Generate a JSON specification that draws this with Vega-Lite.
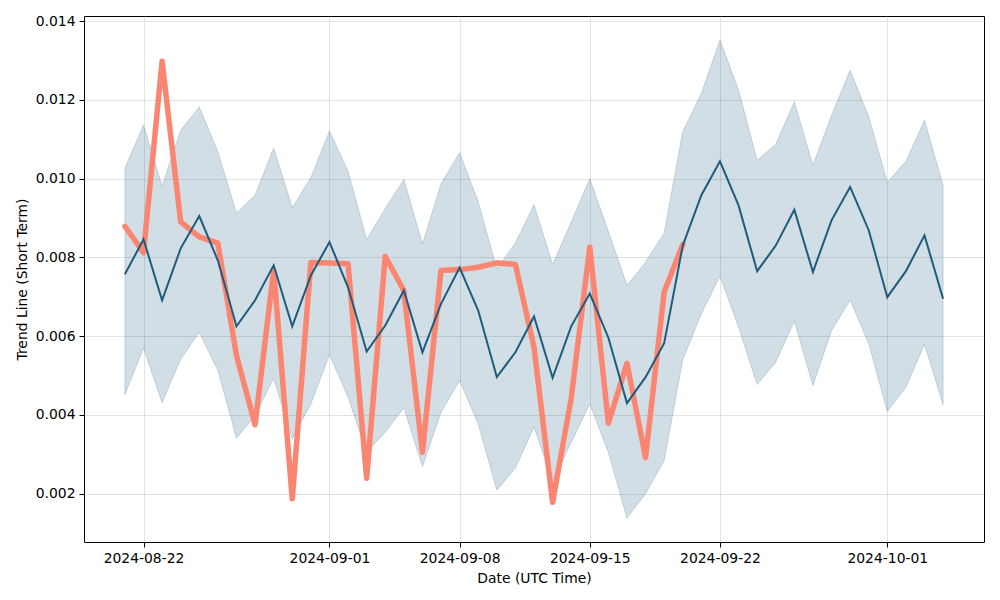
{
  "$schema": "https://vega.github.io/schema/vega-lite/v6.json",
  "width": 900,
  "height": 526,
  "autosize": {"type": "none"},
  "padding": {"left": 84, "top": 16, "right": 16, "bottom": 58},
  "background": "white",
  "config": {
    "view": {"stroke": "#000000", "strokeWidth": 1},
    "font": "DejaVu Sans",
    "axis": {
      "domain": false,
      "grid": true,
      "gridColor": "#b0b0b0",
      "gridOpacity": 0.45,
      "gridWidth": 0.8,
      "tickColor": "#000000",
      "tickSize": 5,
      "tickWidth": 1,
      "labelFont": "DejaVu Sans",
      "labelFontSize": 13.9,
      "labelColor": "#000000",
      "labelPadding": 4,
      "titleFont": "DejaVu Sans",
      "titleFontSize": 13.9,
      "titleFontWeight": "normal",
      "titleColor": "#000000"
    }
  },
  "data": {
    "values": [
      {"date": "2024-08-21", "mean": 0.00757, "lower": 0.00452, "upper": 0.01027, "actual": 0.00879},
      {"date": "2024-08-22", "mean": 0.00846, "lower": 0.0057, "upper": 0.01136, "actual": 0.00812},
      {"date": "2024-08-23", "mean": 0.00691, "lower": 0.00431, "upper": 0.00981, "actual": 0.01298},
      {"date": "2024-08-24", "mean": 0.00823, "lower": 0.00542, "upper": 0.01123, "actual": 0.0089},
      {"date": "2024-08-25", "mean": 0.00905, "lower": 0.00609, "upper": 0.01182, "actual": 0.00852},
      {"date": "2024-08-26", "mean": 0.00792, "lower": 0.00513, "upper": 0.01068, "actual": 0.00836},
      {"date": "2024-08-27", "mean": 0.00625, "lower": 0.00341, "upper": 0.00913, "actual": 0.00551},
      {"date": "2024-08-28", "mean": 0.00691, "lower": 0.00398, "upper": 0.00958, "actual": 0.00375},
      {"date": "2024-08-29", "mean": 0.0078, "lower": 0.00493, "upper": 0.01078, "actual": 0.00767},
      {"date": "2024-08-30", "mean": 0.00625, "lower": 0.00339, "upper": 0.00926, "actual": 0.00187},
      {"date": "2024-08-31", "mean": 0.00754, "lower": 0.00428, "upper": 0.01003, "actual": 0.00787},
      {"date": "2024-09-01", "mean": 0.00839, "lower": 0.00553, "upper": 0.01121, "actual": 0.00786},
      {"date": "2024-09-02", "mean": 0.00724, "lower": 0.00445, "upper": 0.01019, "actual": 0.00784},
      {"date": "2024-09-03", "mean": 0.00561, "lower": 0.00305, "upper": 0.00846, "actual": 0.00239},
      {"date": "2024-09-04", "mean": 0.00627, "lower": 0.00356, "upper": 0.00924, "actual": 0.00803},
      {"date": "2024-09-05", "mean": 0.00716, "lower": 0.00418, "upper": 0.00998, "actual": 0.00716},
      {"date": "2024-09-06", "mean": 0.00559, "lower": 0.00269, "upper": 0.00834, "actual": 0.00305},
      {"date": "2024-09-07", "mean": 0.00682, "lower": 0.00407, "upper": 0.00987, "actual": 0.00767},
      {"date": "2024-09-08", "mean": 0.00774, "lower": 0.00487, "upper": 0.01066, "actual": 0.00769},
      {"date": "2024-09-09", "mean": 0.00665, "lower": 0.00377, "upper": 0.00941, "actual": 0.00775},
      {"date": "2024-09-10", "mean": 0.00496, "lower": 0.00209, "upper": 0.00771, "actual": 0.00786},
      {"date": "2024-09-11", "mean": 0.00559, "lower": 0.00265, "upper": 0.00837, "actual": 0.00782},
      {"date": "2024-09-12", "mean": 0.0065, "lower": 0.00369, "upper": 0.00934, "actual": 0.00572},
      {"date": "2024-09-13", "mean": 0.00494, "lower": 0.00233, "upper": 0.00782, "actual": 0.00178},
      {"date": "2024-09-14", "mean": 0.00625, "lower": 0.0033, "upper": 0.0089, "actual": 0.00442},
      {"date": "2024-09-15", "mean": 0.00708, "lower": 0.00428, "upper": 0.01, "actual": 0.00826},
      {"date": "2024-09-16", "mean": 0.00596, "lower": 0.00305, "upper": 0.00866, "actual": 0.00379},
      {"date": "2024-09-17", "mean": 0.0043, "lower": 0.00138, "upper": 0.00729, "actual": 0.00531},
      {"date": "2024-09-18", "mean": 0.00496, "lower": 0.002, "upper": 0.00788, "actual": 0.00292},
      {"date": "2024-09-19", "mean": 0.00582, "lower": 0.00284, "upper": 0.00862, "actual": 0.00712},
      {"date": "2024-09-20", "mean": 0.0083, "lower": 0.0054, "upper": 0.0112, "actual": 0.00833},
      {"date": "2024-09-21", "mean": 0.00958, "lower": 0.00657, "upper": 0.01216, "actual": null},
      {"date": "2024-09-22", "mean": 0.01044, "lower": 0.00752, "upper": 0.01352, "actual": null},
      {"date": "2024-09-23", "mean": 0.00932, "lower": 0.00623, "upper": 0.01225, "actual": null},
      {"date": "2024-09-24", "mean": 0.00765, "lower": 0.00477, "upper": 0.01047, "actual": null},
      {"date": "2024-09-25", "mean": 0.0083, "lower": 0.00534, "upper": 0.01087, "actual": null},
      {"date": "2024-09-26", "mean": 0.00921, "lower": 0.00638, "upper": 0.01195, "actual": null},
      {"date": "2024-09-27", "mean": 0.00763, "lower": 0.00475, "upper": 0.01034, "actual": null},
      {"date": "2024-09-28", "mean": 0.00894, "lower": 0.00614, "upper": 0.01161, "actual": null},
      {"date": "2024-09-29", "mean": 0.00979, "lower": 0.00692, "upper": 0.01275, "actual": null},
      {"date": "2024-09-30", "mean": 0.00869, "lower": 0.00581, "upper": 0.01157, "actual": null},
      {"date": "2024-10-01", "mean": 0.00699, "lower": 0.00409, "upper": 0.00991, "actual": null},
      {"date": "2024-10-02", "mean": 0.00765, "lower": 0.0047, "upper": 0.01044, "actual": null},
      {"date": "2024-10-03", "mean": 0.00856, "lower": 0.00579, "upper": 0.01148, "actual": null},
      {"date": "2024-10-04", "mean": 0.00695, "lower": 0.00426, "upper": 0.00983, "actual": null}
    ]
  },
  "encoding": {
    "x": {
      "field": "date",
      "type": "temporal",
      "title": "Date (UTC Time)",
      "scale": {
        "type": "utc",
        "domain": [
          {"year": 2024, "month": 8, "date": 18, "hours": 19, "minutes": 12, "utc": true},
          {"year": 2024, "month": 10, "date": 6, "hours": 4, "minutes": 48, "utc": true}
        ]
      },
      "axis": {
        "format": "%Y-%m-%d",
        "labelAngle": 0,
        "titlePadding": 7,
        "values": [
          {"year": 2024, "month": 8, "date": 22, "utc": true},
          {"year": 2024, "month": 9, "date": 1, "utc": true},
          {"year": 2024, "month": 9, "date": 8, "utc": true},
          {"year": 2024, "month": 9, "date": 15, "utc": true},
          {"year": 2024, "month": 9, "date": 22, "utc": true},
          {"year": 2024, "month": 10, "date": 1, "utc": true}
        ]
      }
    }
  },
  "layer": [
    {
      "mark": {"type": "area", "color": "#1f5b7c", "fillOpacity": 0.2, "stroke": "#1f5b7c", "strokeOpacity": 0.2, "strokeWidth": 1},
      "encoding": {
        "y": {
          "field": "lower",
          "type": "quantitative",
          "title": "Trend Line (Short Term)",
          "scale": {"domain": [0.000773, 0.01413], "nice": false, "zero": false},
          "axis": {"values": [0.002, 0.004, 0.006, 0.008, 0.01, 0.012, 0.014], "format": ".3f", "titlePadding": 6}
        },
        "y2": {"field": "upper"}
      }
    },
    {
      "transform": [{"filter": "datum.actual != null"}],
      "mark": {"type": "line", "color": "#fa8570", "strokeWidth": 5.5, "strokeCap": "round", "strokeJoin": "round"},
      "encoding": {
        "y": {"field": "actual", "type": "quantitative"}
      }
    },
    {
      "mark": {"type": "line", "color": "#1f5b7c", "strokeWidth": 2},
      "encoding": {
        "y": {"field": "mean", "type": "quantitative"}
      }
    }
  ]
}
